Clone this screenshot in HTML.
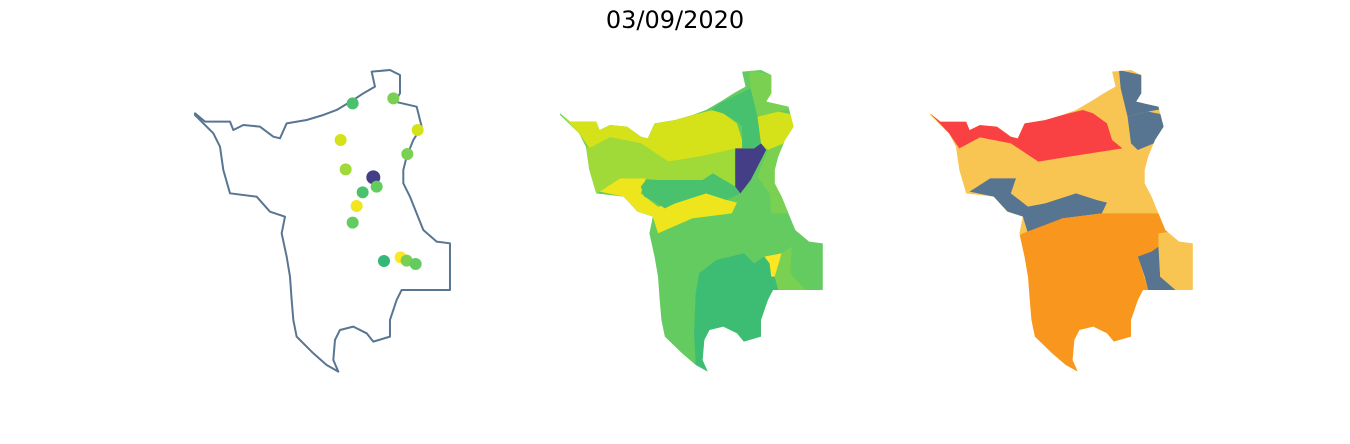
<!DOCTYPE html>
<html><head><meta charset="utf-8"><style>
html,body{margin:0;padding:0;background:#fff;}
svg{display:block;}
</style></head><body>
<svg id="fig" width="1350" height="444" viewBox="0 0 1350 444" xmlns="http://www.w3.org/2000/svg">
<text x="675" y="28" text-anchor="middle" font-family="DejaVu Sans, sans-serif" font-size="24" fill="#000">03/09/2020</text>
<defs>
<clipPath id="clip2"><polygon id="cp2"/></clipPath>
<clipPath id="clip3"><polygon id="cp3"/></clipPath>
</defs>
<g id="p1" transform="translate(190,60) scale(0.3333)"></g>
<g id="p2" transform="translate(555,60) scale(0.3433,0.3333)"></g>
<g id="p3" transform="translate(925,60) scale(0.3433,0.3333)"></g>
</svg>
<script>
const outline=[15,160,45,185,120,185,130,210,160,195,210,200,250,230,270,235,290,190,350,180,400,165,440,150,490,120,520,100,555,80,545,35,600,30,630,45,630,100,615,125,680,140,695,200,670,240,650,290,640,330,640,370,660,410,680,460,700,510,740,545,780,550,780,690,635,690,620,720,600,780,600,830,550,845,530,820,490,800,450,810,435,840,430,900,445,935,410,915,370,880,320,830,310,780,305,720,300,650,290,590,275,520,285,470,240,455,200,410,120,400,100,330,90,260,70,220,15,165];
const stationX=[488,610,683,452,652,467,550,560,518,500,488,582,632,650,677];
const stationY=[130,115,210,240,282,328,352,380,397,438,488,603,592,602,612];
const stationColor=["#4ac16d","#7ad151","#d5e21a","#d5e21a","#7ad151","#a0da39","#433e85","#63cb5f","#4ac16d","#f0e51e","#63cb5f","#35b779","#fde725","#7ad151","#63cb5f"];
const reg={
 yg:[15,160,45,185,120,185,130,210,160,195,210,200,250,230,270,235,290,190,350,180,400,165,460,150,490,160,530,190,545,240,575,265,420,290,330,305,250,250,160,232,100,265,70,220],
 lime:[100,265,160,232,250,250,330,305,420,290,525,265,525,380,460,340,430,360,300,360,250,355,190,355,130,395,120,400,100,330,90,260],
 yl:[130,395,190,355,265,355,250,400,300,440,350,430,440,400,500,420,530,428,515,460,400,475,300,520,285,470,240,455,200,410],
 gb:[250,380,265,360,300,360,430,360,460,340,525,380,540,400,500,420,440,400,350,430,320,445,290,425,260,410],
 pur:[525,265,580,265,600,250,615,270,570,360,540,400,525,380],
 gt:[455,150,480,130,520,110,570,85,590,170,600,250,580,265,545,265,545,200,530,185,490,160],
 lt:[565,30,630,45,640,130,700,145,650,155,590,170,570,85],
 ygr:[590,170,650,155,700,165,720,200,690,240,620,270,600,250],
 lr:[620,270,690,240,680,260,660,330,660,380,690,420,690,460,630,460,625,400,590,350],
 ds:[420,640,470,600,550,580,580,610,610,590,650,590,640,650,650,690,630,740,600,780,600,830,550,845,530,820,490,800,450,810,435,840,430,900,445,935,410,915,405,820,410,700],
 ys:[610,590,660,580,650,650,630,650,625,610],
 ls:[660,580,690,560,685,640,730,690,650,690,640,650],
 ora:[285,520,400,475,515,460,690,460,720,515,680,520,680,570,620,590,650,690,640,700,600,780,600,830,550,845,530,820,490,800,450,810,435,840,430,900,445,935,410,915,370,880,320,830,310,780,300,650,270,530],
 sls:[620,590,660,575,680,560,685,650,730,690,650,690,640,650],
 lrt:[680,520,720,515,740,545,780,550,780,690,730,690,685,650]
};
const NS="http://www.w3.org/2000/svg";
function pts(a){let s=[];for(let i=0;i<a.length;i+=2){s.push(a[i]+","+a[i+1]);}return s.join(" ");}
function poly(g,a,fill,name,stroke){const p=document.createElementNS(NS,"polygon");p.setAttribute("points",pts(a));p.setAttribute("fill",fill);
if(stroke){p.setAttribute("stroke",stroke);p.setAttribute("stroke-width","6");p.setAttribute("stroke-linejoin","round");}


g.appendChild(p);return p;}
const p1=document.getElementById("p1");
poly(p1,outline,"#fff","state-outline","#587592");
for(let i=0;i<stationX.length;i++){const c=document.createElementNS(NS,"circle");c.setAttribute("cx",stationX[i]);c.setAttribute("cy",stationY[i]);c.setAttribute("r",i===6?21:18);c.setAttribute("fill",stationColor[i]);


p1.appendChild(c);}
document.getElementById("cp2").setAttribute("points",pts(outline));
document.getElementById("cp3").setAttribute("points",pts(outline));
const p2=document.getElementById("p2");
poly(p2,outline,"#63cb5f","region-base");
const g2=document.createElementNS(NS,"g");g2.setAttribute("clip-path","url(#clip2)");


p2.appendChild(g2);
[["yg","#d5e21a"],["lime","#a0da39"],["yl","#efe51c"],["gb","#4ac16d"],["pur","#433e85"],["gt","#48c16e"],["lt","#7ad151"],["ygr","#d5e21a"],["lr","#7ad151"],["ds","#3dbc74"],["ys","#fde725"],["ls","#7ad151"]].forEach(r=>poly(g2,reg[r[0]],r[1],"region-"+r[0]));
const p3=document.getElementById("p3");
poly(p3,outline,"#f9c552","region-base");
const g3=document.createElementNS(NS,"g");g3.setAttribute("clip-path","url(#clip3)");


p3.appendChild(g3);
[["yg","#f94144"],["lt","#577590"],["ygr","#577590"],["yl","#577590"],["ora","#f8961e"],["sls","#577590"],["lrt","#f9c552"]].forEach(r=>poly(g3,reg[r[0]],r[1],"region-"+r[0]));
</script>
</body></html>
